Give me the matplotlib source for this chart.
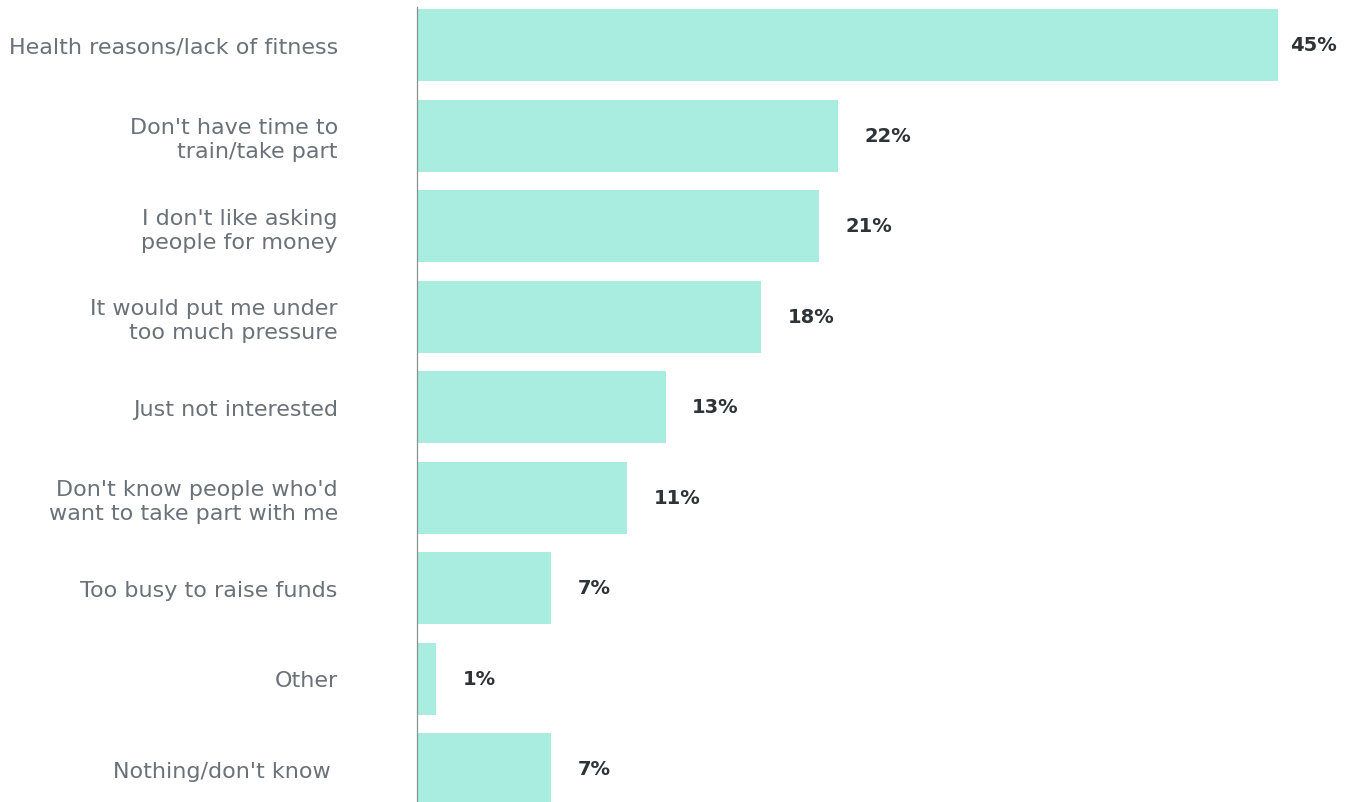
import matplotlib
matplotlib.use("Agg")
import matplotlib.pyplot as plt

categories = [
    "Health reasons/lack of fitness",
    "Don't have time to\ntrain/take part",
    "I don't like asking\npeople for money",
    "It would put me under\ntoo much pressure",
    "Just not interested",
    "Don't know people who'd\nwant to take part with me",
    "Too busy to raise funds",
    "Other",
    "Nothing/don't know ",
]
values = [45, 22, 21, 18, 13, 11, 7, 1, 7]

BAR_COLOR = "#a8ede0"
LABEL_COLOR = "#6b7178"
VALUE_COLOR = "#2e3338"

plt.rcParams["font.family"] = ["DejaVu Sans"]

W, H, DPI = 1355, 803, 100
fig = plt.figure(figsize=(W / DPI, H / DPI), dpi=DPI)
left, right = 417 / W, 1278 / W
ax = fig.add_axes([left, 0, right - left, 1])

pitch = 90.5
first_center = 46
y = list(range(len(values)))
ax.barh(y, values, height=72 / pitch, color=BAR_COLOR, zorder=2)

ax.set_xlim(0, max(values))
ax.set_ylim((H - first_center) / pitch, -first_center / pitch)

for s in ("top", "right", "bottom", "left"):
    ax.spines[s].set_visible(False)
ax.plot([0, 0], [-0.42, ax.get_ylim()[0]], color="#8a9090", lw=0.9,
        zorder=3, clip_on=False)

ax.set_xticks([])
ax.set_yticks(y)
ax.set_yticklabels(categories, fontsize=16, color=LABEL_COLOR,
                   linespacing=1.25)
ax.tick_params(axis="y", length=0, pad=57)

top = max(values)
for yi, v in zip(y, values):
    off = 9 if v == top else 19
    ax.annotate(f"{v}%", (v, yi), xytext=(off, 0), textcoords="offset points",
                ha="left", va="center", fontsize=14, fontweight="bold",
                color=VALUE_COLOR, annotation_clip=False)

fig.savefig("out.png", dpi=DPI)
